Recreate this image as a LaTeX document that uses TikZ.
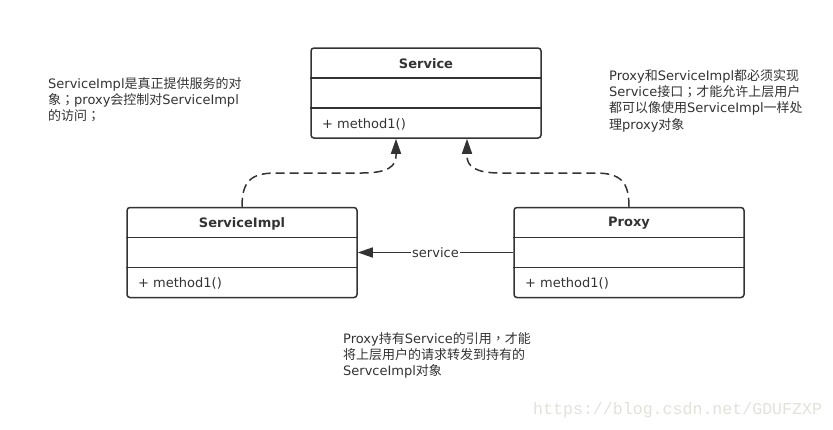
\documentclass[tikz,border=0pt]{standalone}
\usepackage{fontspec}
\setmainfont{DejaVu Sans}
\newfontfamily\cjk{Noto Sans CJK SC}
\newfontfamily\cjktc{Noto Sans CJK TC}
\newfontfamily\wmfont{Liberation Mono}
\usetikzlibrary{arrows.meta}
\definecolor{ink}{HTML}{333333}
\definecolor{wm}{HTML}{E2E2DC}
\newcommand\zh[1]{{\cjk #1}}
\newcommand\zp[1]{{\cjktc #1}}
\begin{document}
\begin{tikzpicture}[x=1pt,y=-1pt,
  cls/.style={draw=ink, line width=1.5pt, rounded corners=3pt, minimum width=230pt, minimum height=90pt, inner sep=0pt, fill=white},
  divider/.style={draw=ink, line width=1.5pt},
  title/.style={font=\fontsize{13}{16}\selectfont\bfseries, text=ink, inner sep=0pt},
  member/.style={font=\fontsize{13}{16}\selectfont, text=ink, anchor=west, inner sep=0pt},
  note/.style={font=\fontsize{13}{16.3}\selectfont, text=ink, align=left, anchor=north west, inner sep=0pt},
  dep/.style={draw=ink, line width=1.5pt, dash pattern=on 9pt off 5pt, -{Triangle[length=15pt,width=10pt]}},
  assoc/.style={draw=ink, line width=1.5pt, -{Triangle[length=15pt,width=10pt]}},
  lbl/.style={font=\fontsize{13}{16}\selectfont, text=ink, fill=white, inner sep=1pt}
]
\useasboundingbox (0,0) rectangle (833,429);
\fill[white] (0,0) rectangle (833,429);

% classes
\node[cls] (svc) at (426,93) {};
\node[cls] (impl) at (242,252.5) {};
\node[cls] (proxy) at (629,252.5) {};

\foreach \n in {svc,impl,proxy}{
  \draw[divider] ([yshift=15pt]\n.west) -- ([yshift=15pt]\n.east);
  \draw[divider] ([yshift=-15pt]\n.west) -- ([yshift=-15pt]\n.east);
}

\node[title] (svct) at (426,63.5) {Service};
\node[title] (implt) at (242,223.5) {ServiceImpl};
\node[title] (proxyt) at (629,223.5) {Proxy};

\node[member] (svcm) at (322,124) {+ method1()};
\node[member] (implm) at (138,283.5) {+ method1()};
\node[member] (proxym) at (525,283.5) {+ method1()};

% connectors
\coordinate (tipL) at ([xshift=-30pt]svc.south);
\coordinate (tipR) at ([xshift=41pt]svc.south);
\draw[dep] (impl.north) .. controls (242,182) and (250,173) .. (276,173)
  -- (362,173) .. controls (388,173) and (396,166) .. (396,156) -- (tipL);
\draw[dep] (proxy.north) .. controls (629,182) and (621,173) .. (595,173)
  -- (500,173) .. controls (475,173) and (467,166) .. (467,156) -- (tipR);
\draw[assoc] (proxy.west) -- node[lbl] (svclbl) {service} (impl.east);

% notes
\node[note] (noteL) at (48,77) {ServiceImpl\zh{是真正提供服务的对}\\
\zh{象}\zp{；}proxy\zh{会控制对}ServiceImpl\\
\zh{的访问}\zp{；}};
\node[note] (noteR) at (609,69) {Proxy\zh{和}ServiceImpl\zh{都必须实现}\\
Service\zh{接口}\zp{；}\zh{才能允许上层用户}\\
\zh{都可以像使用}ServiceImpl\zh{一样处}\\
\zh{理}proxy\zh{对象}};
\node[note] (noteB) at (343,332) {Proxy\zh{持有}Service\zh{的引用}\zp{，}\zh{才能}\\
\zh{将上层用户的请求转发到持有的}\\
ServceImpl\zh{对象}};

% watermark
\node[anchor=west, inner sep=0pt, text=wm, font=\wmfont\fontsize{16.6}{18}\selectfont] (wmk) at (533,410) {https://blog.csdn.net/GDUFZXP};
\end{tikzpicture}
\end{document}
